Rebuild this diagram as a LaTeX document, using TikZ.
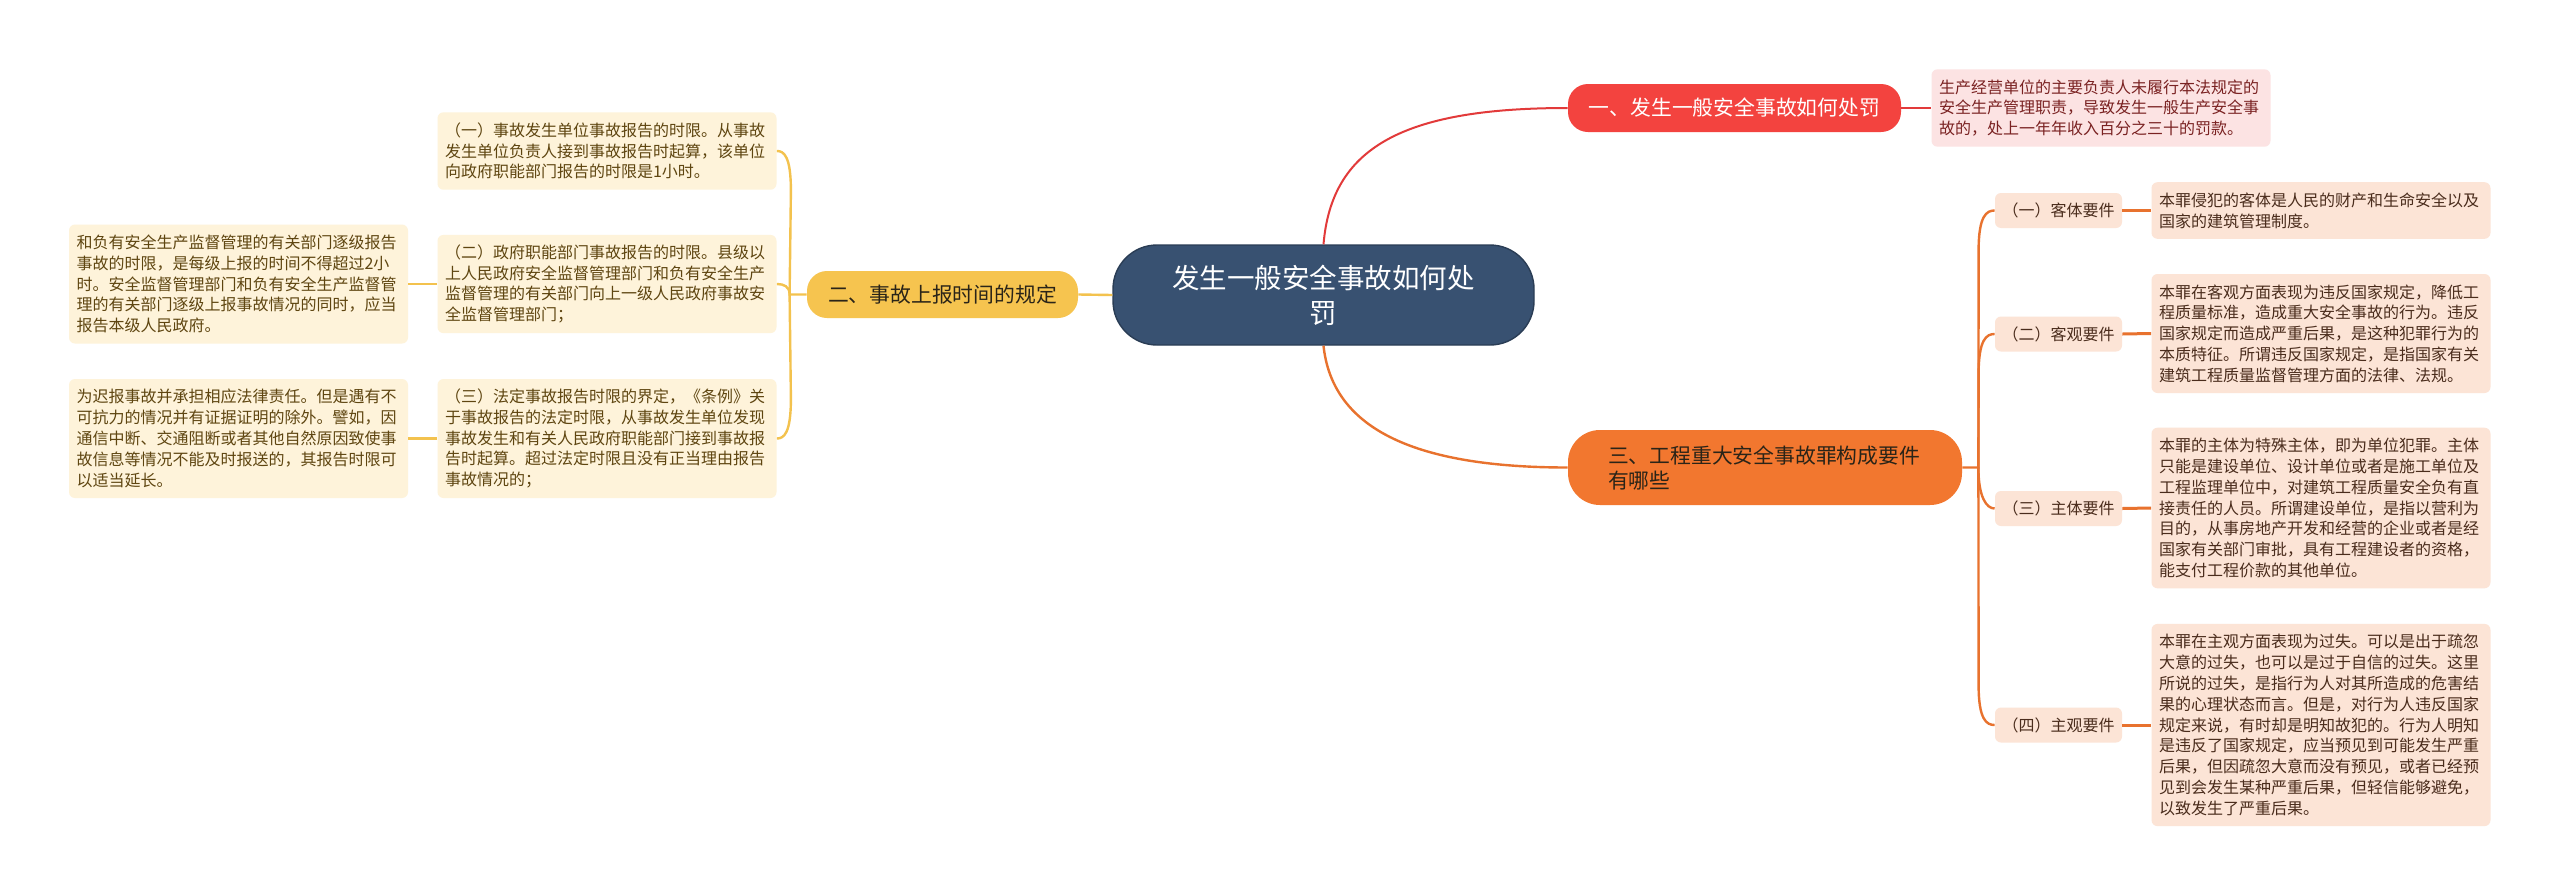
\documentclass[tikz,border=0pt]{standalone}
\usepackage{fontspec}
\setmainfont{Noto Sans CJK SC}
\usetikzlibrary{calc}
\definecolor{cMain}{HTML}{385171}
\definecolor{cRed}{HTML}{F3433F}
\definecolor{cOrange}{HTML}{F2772F}
\definecolor{cYellow}{HTML}{F6C44F}
\definecolor{fRed}{HTML}{FCE3E3}
\definecolor{fOrange}{HTML}{FCE4D6}
\definecolor{fYellow}{HTML}{FEF3DA}
\definecolor{tRed}{HTML}{7A2222}
\definecolor{tOrange}{HTML}{4A2C1C}
\definecolor{tYellow}{HTML}{5E4510}
\definecolor{tDark}{HTML}{2A2418}
\definecolor{lRed}{HTML}{E23A3A}
\definecolor{lOrange}{HTML}{E8722E}
\definecolor{lYellow}{HTML}{F3C24E}
\newcommand\mmleaffont{\fontsize{8}{10.4}\selectfont}
\newcommand\mmtopfont{\fontsize{10.4}{12.5}\selectfont}
\newcommand\mmmainfont{\fontsize{13.75}{17.5}\selectfont}
\tikzset{
  leafbase/.style={rounded corners=3pt, inner xsep=3.75pt, inner ysep=0pt, text width=162pt, align=left, font=\mmleaffont, anchor=center},
  leafR/.style={leafbase, fill=fRed, text=tRed},
  leafO/.style={leafbase, fill=fOrange, text=tOrange},
  leafY/.style={leafbase, fill=fYellow, text=tYellow},
  nl/.style={minimum height={#1*10.4pt+7.5pt}},
  subbox/.style={fill=fOrange, text=tOrange, rounded corners=3pt, minimum width=63.5pt, minimum height=17.5pt, inner sep=0pt, font=\mmleaffont},
  mainbox/.style={fill=cMain, draw=cMain!75!black, line width=0.7pt, rounded corners=22pt, minimum width=210.5pt, minimum height=50pt, text=white, align=center, font=\mmmainfont, inner sep=0pt},
  topbox/.style={rounded corners=10pt, inner sep=0pt, font=\mmtopfont},
  conR/.style={draw=lRed, line width=1pt},
  conO/.style={draw=lOrange, line width=1.2pt},
  conY/.style={draw=lYellow, line width=1.2pt},
}
\begin{document}
\begin{tikzpicture}[x=0.5pt,y=-0.5pt]
\useasboundingbox (0,0) rectangle (2560,895);
\fill[white] (0,0) rectangle (2560,895);

% central
\node[mainbox] (c) at (1323.5,295) {发生一般安全事故如何处\\罚};

% level 1
\node[topbox, fill=cRed, text=white, minimum width=166.5pt, minimum height=24pt] (n1) at (1734.5,108) {一、发生一般安全事故如何处罚};
\node[topbox, fill=cYellow, text=tDark, minimum width=135.5pt, minimum height=23.5pt] (n2) at (942.5,294.5) {二、事故上报时间的规定};
\node[topbox, rounded corners=16pt, fill=cOrange, text=tDark, minimum width=197pt, minimum height=37.5pt, text width=157pt, align=left, font=\fontsize{10.4}{12.5}\selectfont] (n3) at (1765,467.5) {三、工程重大安全事故罪构成要件\\有哪些};

% red leaf
\node[leafR, nl=3] (rl) at (2101,108) {生产经营单位的主要负责人未履行本法规定的\\安全生产管理职责，导致发生一般生产安全事\\故的，处上一年年收入百分之三十的罚款。};

% orange sub nodes
\node[subbox] (s1) at (2058.5,210.5) {（一）客体要件};
\node[subbox] (s2) at (2058.5,334) {（二）客观要件};
\node[subbox] (s3) at (2058.5,508.5) {（三）主体要件};
\node[subbox] (s4) at (2058.5,725) {（四）主观要件};

% orange leaves
\node[leafO, nl=2] (o1) at (2321,210.5) {本罪侵犯的客体是人民的财产和生命安全以及\\国家的建筑管理制度。};
\node[leafO, nl=5] (o2) at (2321,333.5) {本罪在客观方面表现为违反国家规定，降低工\\程质量标准，造成重大安全事故的行为。违反\\国家规定而造成严重后果，是这种犯罪行为的\\本质特征。所谓违反国家规定，是指国家有关\\建筑工程质量监督管理方面的法律、法规。};
\node[leafO, nl=7] (o3) at (2321,508) {本罪的主体为特殊主体，即为单位犯罪。主体\\只能是建设单位、设计单位或者是施工单位及\\工程监理单位中，对建筑工程质量安全负有直\\接责任的人员。所谓建设单位，是指以营利为\\目的，从事房地产开发和经营的企业或者是经\\国家有关部门审批，具有工程建设者的资格，\\能支付工程价款的其他单位。};
\node[leafO, nl=9] (o4) at (2321,725) {本罪在主观方面表现为过失。可以是出于疏忽\\大意的过失，也可以是过于自信的过失。这里\\所说的过失，是指行为人对其所造成的危害结\\果的心理状态而言。但是，对行为人违反国家\\规定来说，有时却是明知故犯的。行为人明知\\是违反了国家规定，应当预见到可能发生严重\\后果，但因疏忽大意而没有预见，或者已经预\\见到会发生某种严重后果，但轻信能够避免，\\以致发生了严重后果。};

% yellow leaves
\node[leafY, nl=3] (y1) at (607,151) {（一）事故发生单位事故报告的时限。从事故\\发生单位负责人接到事故报告时起算，该单位\\向政府职能部门报告的时限是1小时。};
\node[leafY, nl=4] (y2) at (607,284) {（二）政府职能部门事故报告的时限。县级以\\上人民政府安全监督管理部门和负有安全生产\\监督管理的有关部门向上一级人民政府事故安\\全监督管理部门；};
\node[leafY, nl=5] (y3) at (607,438.5) {（三）法定事故报告时限的界定，《条例》关\\于事故报告的法定时限，从事故发生单位发现\\事故发生和有关人民政府职能部门接到事故报\\告时起算。超过法定时限且没有正当理由报告\\事故情况的；};
\node[leafY, nl=5] (ll1) at (238.5,284) {和负有安全生产监督管理的有关部门逐级报告\\事故的时限，是每级上报的时间不得超过2小\\时。安全监督管理部门和负有安全生产监督管\\理的有关部门逐级上报事故情况的同时，应当\\报告本级人民政府。};
\node[leafY, nl=5] (ll2) at (238.5,438.5) {为迟报事故并承担相应法律责任。但是遇有不\\可抗力的情况并有证据证明的除外。譬如，因\\通信中断、交通阻断或者其他自然原因致使事\\故信息等情况不能及时报送的，其报告时限可\\以适当延长。};

% connectors from centre
\draw[conR] (c.north) .. controls ($(c.north)+(8,-95)$) and ($(n1.west)+(-168,0)$) .. (n1.west);
\draw[conO] (c.south) .. controls ($(c.south)+(8,75)$) and ($(n3.west)+(-168,0)$) .. (n3.west);
\draw[conY] (c.west) -- (n2.east);

% red branch
\draw[conR, line width=1.2pt] (n1.east) -- (rl.west);

% orange branch
\coordinate (jo) at ($(n3.east)+(16,0)$);
\draw[conO] (n3.east) -- (jo) -- ($(s1.west)+(-16,40)$) .. controls ($(s1.west)+(-16,5)$) and ($(s1.west)+(-8,0)$) .. (s1.west);
\draw[conO] (jo) -- ($(s2.west)+(-16,40)$) .. controls ($(s2.west)+(-16,5)$) and ($(s2.west)+(-8,0)$) .. (s2.west);
\draw[conO] (jo) .. controls ($(jo)+(0,30)$) and ($(s3.west)+(-8,0)$) .. (s3.west);
\draw[conO] (jo) -- ($(s4.west)+(-16,-40)$) .. controls ($(s4.west)+(-16,-5)$) and ($(s4.west)+(-8,0)$) .. (s4.west);
\draw[conO, line width=1.5pt] (s1.east) -- (o1.west);
\draw[conO, line width=1.5pt] (s2.east) -- (o2.west);
\draw[conO, line width=1.5pt] (s3.east) -- (o3.west);
\draw[conO, line width=1.5pt] (s4.east) -- (o4.west);

% yellow branch
\coordinate (jy) at ($(n2.west)+(-17,0)$);
\draw[conY] (n2.west) -- (jy) -- ($(y1.east)+(14,40)$) .. controls ($(y1.east)+(14,5)$) and ($(y1.east)+(7,0)$) .. (y1.east);
\draw[conY] (jy) .. controls ($(jy)+(0,-8)$) and ($(y2.east)+(7,0)$) .. (y2.east);
\draw[conY] (jy) -- ($(y3.east)+(14,-40)$) .. controls ($(y3.east)+(14,-5)$) and ($(y3.east)+(7,0)$) .. (y3.east);
\draw[conY, line width=1.4pt] (y2.west) -- (ll1.east);
\draw[conY, line width=1.4pt] (y3.west) -- (ll2.east);
\end{tikzpicture}
\end{document}
